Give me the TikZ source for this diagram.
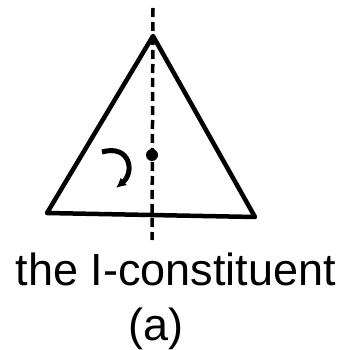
\documentclass[tikz,border=0pt]{standalone}
\usepackage{fontspec}
\setmainfont{Liberation Sans}
\usetikzlibrary{arrows.meta}
\begin{document}
\begin{tikzpicture}[x=1pt,y=-1pt,line width=4.5pt]
\useasboundingbox (0,0) rectangle (350,350);
% the triangle
\coordinate (top) at (153,36);
\coordinate (left) at (47,213);
\coordinate (right) at (255,217);
\draw[line join=round] (top) -- (left) -- (right) -- cycle;

% axis through the apex
\coordinate (axtop) at (153,8);
\coordinate (axbot) at (152,240);
\draw[line width=3.5pt, dash pattern=on 9pt off 5pt] (axtop) -- (axbot);
\fill (152,155) circle (6pt);

% turning arrow
\draw[line width=5pt, -{Latex[length=10pt,width=10pt]}] (102,152) .. controls (130,144) and (135,172) .. (116,188);

\node[font=\fontsize{45}{48}\selectfont, anchor=base, inner sep=0pt] (label) at (176,285) {the I-constituent};
\node[font=\fontsize{45}{48}\selectfont, anchor=base, inner sep=0pt] (sub) at (156,340) {(a)};
\end{tikzpicture}
\end{document}
